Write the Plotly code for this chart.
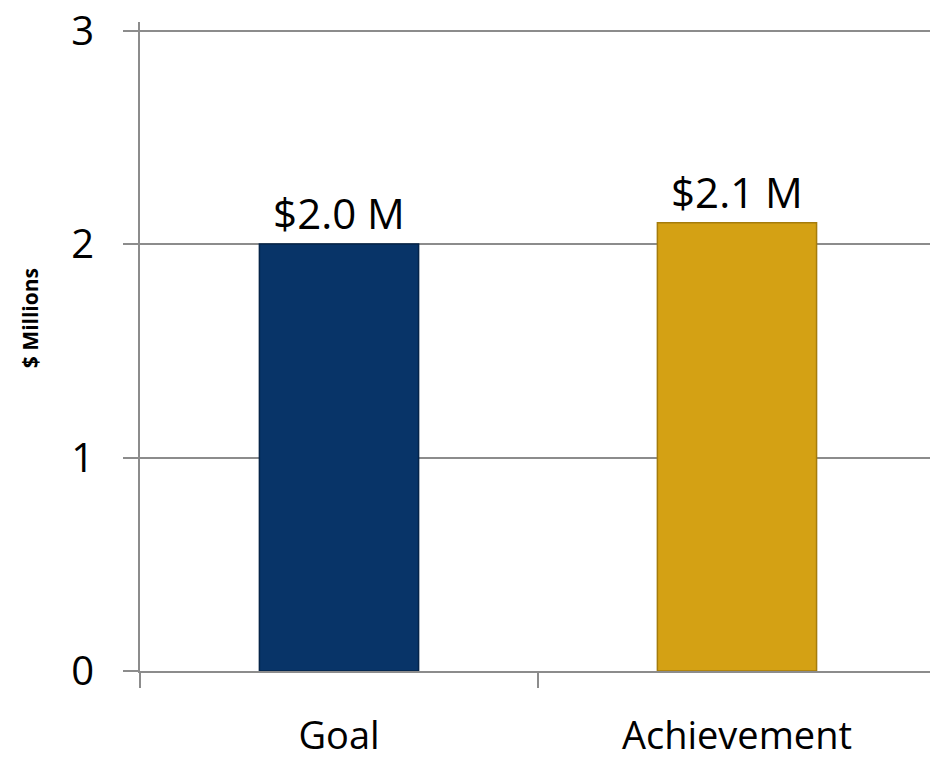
import plotly.graph_objects as go

categories = ["Goal", "Achievement"]
values = [2.0, 2.1]
value_labels = ["$2.0 M", "$2.1 M"]
bar_colors = ["#083468", "#d4a114"]
bar_edges = ["#052449", "#a57c0c"]
y_ticks = [0, 1, 2, 3]

axis_gray = "#8c8c8c"
font_family = "Open Sans, Noto Sans, sans-serif"

fig = go.Figure()
fig.add_trace(go.Bar(
    x=categories,
    y=values,
    width=0.4,
    marker=dict(color=bar_colors, line=dict(color=bar_edges, width=1.5)),
    text=value_labels,
    textposition="outside",
    textfont=dict(size=42, color="#000000", family=font_family),
    cliponaxis=False,
    hoverinfo="skip",
))

fig.add_annotation(
    text="<b>$ Millions</b>",
    xref="paper", yref="paper",
    x=-0.139, y=0.544,
    xanchor="center", yanchor="middle",
    textangle=-90,
    showarrow=False,
    font=dict(size=21, color="#000000", family=font_family),
)

fig.update_layout(
    width=930, height=763,
    margin=dict(l=140, r=0, t=22, b=92),
    paper_bgcolor="white",
    plot_bgcolor="white",
    showlegend=False,
    font=dict(family=font_family, color="#000000"),
    xaxis=dict(
        range=[-0.5, 1.485],
        showline=True, linecolor=axis_gray, linewidth=2,
        ticks="outside", tickson="boundaries", ticklen=15, tickcolor=axis_gray, tickwidth=1.5,
        tickfont=dict(size=38, color="#000000"),
        ticklabelstandoff=30,
        showgrid=False, zeroline=False,
        automargin=False,
        fixedrange=True,
    ),
    yaxis=dict(
        range=[0, 3.04],
        tickvals=y_ticks,
        showline=True, linecolor=axis_gray, linewidth=2,
        ticks="outside", ticklen=15, tickcolor=axis_gray, tickwidth=1.5,
        tickfont=dict(size=40, color="#000000"),
        ticklabelstandoff=21,
        showgrid=True, gridcolor=axis_gray, gridwidth=1.5,
        zeroline=False,
        automargin=False,
        fixedrange=True,
    ),
)

fig.write_html("out.html", config={"displayModeBar": False})
